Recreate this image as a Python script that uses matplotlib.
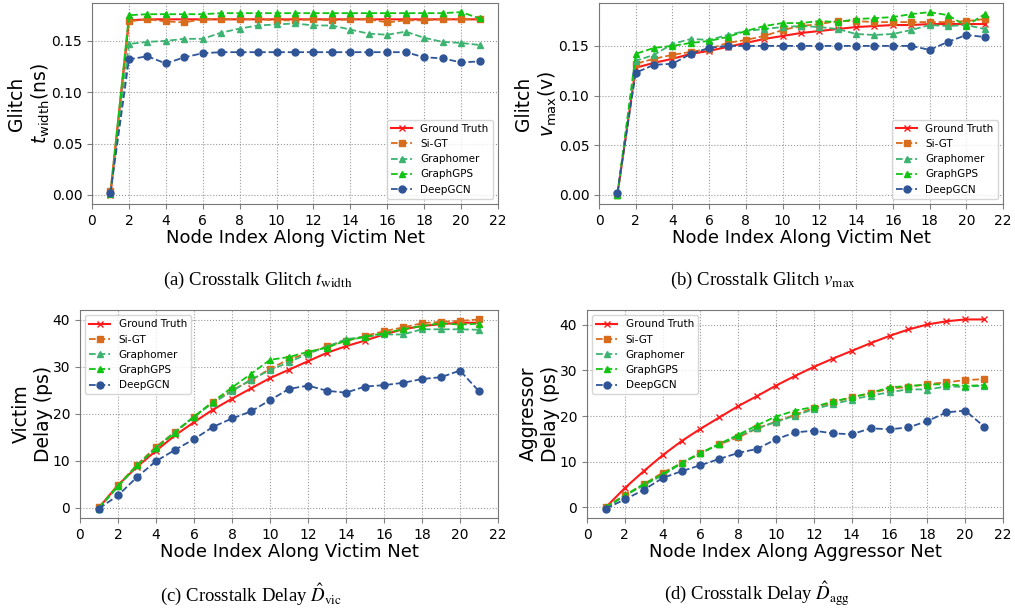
import numpy as np
import matplotlib
matplotlib.use("Agg")
import matplotlib.pyplot as plt

nodes = list(range(1, 22))
methods = ["Ground Truth", "Si-GT", "Graphomer", "GraphGPS", "DeepGCN"]

# (a) glitch width (ns)
tw_gt = [0.0, 0.170, 0.171, 0.171, 0.171, 0.171, 0.171, 0.171, 0.171, 0.171, 0.171,
         0.171, 0.171, 0.171, 0.171, 0.171, 0.171, 0.171, 0.171, 0.171, 0.171]
tw_sigt = [0.004, 0.169, 0.171, 0.169, 0.168, 0.171, 0.171, 0.171, 0.171, 0.170, 0.170,
           0.171, 0.170, 0.171, 0.171, 0.168, 0.170, 0.170, 0.171, 0.171, 0.171]
tw_graphomer = [0.002, 0.147, 0.149, 0.150, 0.152, 0.152, 0.158, 0.162, 0.165, 0.166, 0.167,
                0.165, 0.165, 0.161, 0.157, 0.156, 0.159, 0.153, 0.149, 0.148, 0.146]
tw_graphgps = [0.001, 0.175, 0.176, 0.176, 0.176, 0.176, 0.177, 0.177, 0.177, 0.177, 0.177,
               0.177, 0.177, 0.177, 0.177, 0.177, 0.177, 0.177, 0.177, 0.178, 0.172]
tw_deepgcn = [0.002, 0.132, 0.135, 0.128, 0.134, 0.138, 0.139, 0.139, 0.139, 0.139, 0.139,
              0.139, 0.139, 0.139, 0.139, 0.139, 0.139, 0.134, 0.133, 0.129, 0.130]

# (b) glitch peak (v)
vm_gt = [0.0, 0.128, 0.133, 0.137, 0.142, 0.145, 0.149, 0.153, 0.157, 0.160, 0.163,
         0.165, 0.167, 0.169, 0.170, 0.171, 0.171, 0.172, 0.172, 0.172, 0.172]
vm_sigt = [0.0, 0.132, 0.137, 0.141, 0.144, 0.147, 0.153, 0.156, 0.160, 0.166, 0.170,
           0.172, 0.175, 0.175, 0.174, 0.174, 0.174, 0.174, 0.174, 0.175, 0.177]
vm_graphomer = [0.0, 0.135, 0.141, 0.152, 0.157, 0.156, 0.161, 0.165, 0.167, 0.169, 0.170,
                0.169, 0.167, 0.162, 0.161, 0.162, 0.166, 0.171, 0.170, 0.171, 0.167]
vm_graphgps = [0.0, 0.142, 0.148, 0.150, 0.153, 0.155, 0.159, 0.165, 0.170, 0.173, 0.173,
               0.175, 0.174, 0.177, 0.178, 0.179, 0.182, 0.184, 0.181, 0.170, 0.182]
vm_deepgcn = [0.002, 0.123, 0.131, 0.132, 0.142, 0.148, 0.150, 0.150, 0.150, 0.150, 0.150,
              0.150, 0.150, 0.150, 0.150, 0.150, 0.150, 0.146, 0.154, 0.161, 0.159]

# (c) victim delay (ps)
dv_gt = [0.0, 4.8, 8.7, 12.1, 15.4, 18.2, 20.9, 23.2, 25.4, 27.6, 29.4,
         31.2, 33.0, 34.4, 35.6, 36.9, 38.0, 38.7, 39.1, 39.4, 39.4]
dv_sigt = [0.1, 4.8, 9.1, 13.0, 16.1, 19.3, 22.5, 25.0, 27.1, 29.6, 31.6,
           32.9, 34.4, 35.5, 36.6, 37.6, 38.4, 39.3, 39.6, 39.8, 40.1]
dv_graphomer = [-0.2, 4.5, 9.0, 12.7, 16.2, 19.4, 22.3, 24.8, 27.3, 29.3, 31.0,
                32.8, 34.3, 35.9, 36.4, 36.9, 36.9, 38.0, 38.0, 38.0, 37.9]
dv_graphgps = [0.0, 4.6, 9.0, 12.6, 16.0, 19.4, 22.6, 25.6, 28.5, 31.5, 32.1,
               33.2, 34.1, 35.6, 36.4, 37.2, 38.0, 38.7, 39.3, 39.0, 39.2]
dv_deepgcn = [-0.2, 2.6, 6.5, 9.9, 12.3, 14.6, 17.2, 19.0, 20.5, 22.9, 25.3,
              26.0, 24.9, 24.5, 25.8, 26.1, 26.6, 27.4, 27.8, 29.2, 24.8]

# (d) aggressor delay (ps)
da_gt = [0.0, 4.2, 7.9, 11.4, 14.5, 17.2, 19.7, 22.2, 24.4, 26.7, 28.8,
         30.8, 32.6, 34.3, 36.0, 37.6, 39.0, 40.1, 40.8, 41.2, 41.2]
da_sigt = [0.1, 2.6, 5.0, 7.6, 9.6, 11.8, 13.8, 15.3, 17.3, 18.8, 20.3,
           21.8, 23.0, 24.1, 25.0, 26.0, 26.4, 27.0, 27.4, 27.9, 28.1]
da_graphomer = [-0.2, 2.5, 4.8, 7.0, 9.6, 11.8, 13.8, 15.7, 17.3, 18.7, 20.1,
                21.5, 22.6, 23.6, 24.5, 25.2, 25.9, 25.8, 26.5, 26.4, 26.7]
da_graphgps = [0.0, 2.6, 5.1, 7.2, 9.8, 11.9, 13.9, 15.9, 18.0, 19.9, 21.2,
               22.0, 23.2, 24.1, 25.1, 26.3, 26.6, 26.9, 27.0, 26.6, 26.8]
da_deepgcn = [-0.3, 1.7, 3.8, 6.4, 7.9, 9.2, 10.6, 11.9, 12.8, 14.9, 16.4,
              16.8, 16.2, 16.0, 17.3, 17.1, 17.5, 18.9, 20.8, 21.2, 17.7]

styles = [
    dict(color="#ff1a1a", ls="-", marker="x", ms=5, lw=1.5),
    dict(color="#d96b1c", ls="--", marker="s", ms=5, lw=1.3),
    dict(color="#3cb371", ls="--", marker="^", ms=5, lw=1.3),
    dict(color="#11c411", ls="--", marker="^", ms=5, lw=1.3),
    dict(color="#2f5597", ls="--", marker="o", ms=5, lw=1.3),
]

panels = [
    ([tw_gt, tw_sigt, tw_graphomer, tw_graphgps, tw_deepgcn],
     "Glitch\n$t_{\\mathrm{width}}$(ns)", "Node Index Along Victim Net", "lower right",
     "(a) Crosstalk Glitch $t_{\\mathrm{width}}$", [92, 3, 498, 204]),
    ([vm_gt, vm_sigt, vm_graphomer, vm_graphgps, vm_deepgcn],
     "Glitch\n$v_{\\mathrm{max}}$(v)", "Node Index Along Victim Net", "lower right",
     "(b) Crosstalk Glitch $v_{\\mathrm{max}}$", [599, 3, 1003, 204]),
    ([dv_gt, dv_sigt, dv_graphomer, dv_graphgps, dv_deepgcn],
     "Victim\nDelay (ps)", "Node Index Along Victim Net", "upper left",
     "(c) Crosstalk Delay $\\hat{D}_{\\mathrm{vic}}$", [80, 310, 498, 518]),
    ([da_gt, da_sigt, da_graphomer, da_graphgps, da_deepgcn],
     "Aggressor\nDelay (ps)", "Node Index Along Aggressor Net", "upper left",
     "(d) Crosstalk Delay $\\hat{D}_{\\mathrm{agg}}$", [587, 310, 1003, 518]),
]

W, H = 1015, 613
fig = plt.figure(figsize=(W / 100, H / 100), dpi=100)

for series, ylab, xlab, loc, caption, (l, t, r, b) in panels:
    ax = fig.add_axes([l / W, 1 - b / H, (r - l) / W, (b - t) / H])
    for name, vals, st in zip(methods, series, styles):
        ax.plot(nodes, vals, label=name, **st)
    ax.set_xlim(0, 22)
    ax.set_xticks(range(0, 23, 2))
    ax.grid(True, ls=":", color="gray", lw=0.8, alpha=0.8)
    ax.set_xlabel(xlab, fontsize=13, labelpad=1)
    ax.set_ylabel(ylab, fontsize=13.5, labelpad=0)
    ax.tick_params(labelsize=10, color="gray")
    for sp in ax.spines.values():
        sp.set_color("#777777")
    ax.legend(loc=loc, fontsize=7.5)
    cx = (l + r) / 2 / W - 0.037
    cy = 1 - (b + 76) / H
    fig.text(cx, cy, caption, ha="center", va="center", fontsize=13.5,
             family="Liberation Serif", math_fontfamily="stix")

fig.savefig("out.png", dpi=100)
